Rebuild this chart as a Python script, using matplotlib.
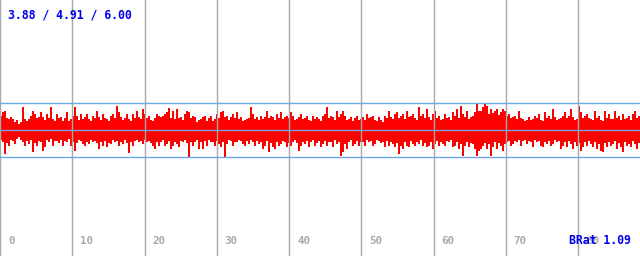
import numpy as np
import matplotlib
matplotlib.use("Agg")
import matplotlib.pyplot as plt

# upper envelope of the waveform (amplitude above centre), one value per 2-px column
top_env = [
    14,18,19,12,11,13,11,8,10,6, 8,23,11,9,11,14,19,16,12,13,
    18,13,10,16,12,23,11,9,16,12, 13,9,12,18,9,11,14,23,14,10,
    16,11,13,16,11,9,14,12,19,13, 10,16,12,11,9,14,16,12,24,18,
    13,10,12,16,11,9,16,12,19,13, 11,21,16,12,14,10,9,12,16,14,
    13,14,16,18,22,12,19,11,21,12, 13,10,16,19,18,12,14,13,8,10,
    11,13,14,9,12,14,9,11,16,12, 18,19,13,14,10,13,16,12,18,11,
    13,9,10,11,12,23,16,11,13,10, 14,11,13,19,12,14,13,10,16,12,
    18,11,13,14,12,18,14,10,11,13, 16,11,12,14,10,9,14,11,13,11,
    9,14,16,23,12,14,13,10,19,13, 16,19,14,10,11,13,9,12,14,10,
    11,13,10,16,12,13,14,10,9,13, 10,8,14,12,19,13,11,16,18,12,
    14,16,11,19,13,14,16,12,10,23, 14,16,12,21,13,10,16,19,12,14,
    10,11,16,12,13,10,18,14,21,12, 24,16,13,19,11,13,14,18,26,19,
    19,23,26,24,16,21,17,19,21,15, 18,21,19,14,16,12,13,14,11,19,
    12,11,9,10,13,10,11,14,12,16, 10,9,18,12,14,11,21,13,10,11,
    12,14,18,12,14,21,13,10,11,24, 18,12,14,16,12,11,10,19,12,14,
    10,9,19,12,16,11,11,19,12,14, 10,16,11,12,14,10,16,19,12,14,
]
# lower envelope of the waveform (amplitude below centre)
bottom_env = [
    10,12,24,13,16,10,11,14,9,7, 10,12,16,11,14,10,22,13,16,11,
    12,21,17,10,12,9,16,11,11,13, 10,16,11,12,9,16,12,21,13,10,
    11,14,16,12,14,10,12,11,13,19, 12,16,11,17,13,14,10,12,11,16,
    12,14,10,13,23,12,16,11,10,12, 11,14,10,12,11,13,16,19,12,16,
    12,10,16,14,11,19,16,12,14,17, 11,12,10,13,27,12,16,12,10,19,
    12,19,11,16,10,12,12,16,11,14, 17,12,27,14,10,11,16,12,12,10,
    11,14,16,11,14,10,12,16,11,14, 12,19,16,11,22,13,17,19,12,16,
    14,11,12,17,13,16,12,10,13,21, 16,12,14,11,17,12,10,16,13,11,
    17,14,11,16,12,12,17,10,14,12, 26,22,14,19,12,10,16,14,11,16,
    12,12,16,10,12,11,16,14,10,11, 13,12,17,11,16,12,14,17,13,24,
    16,19,12,16,17,11,14,16,12,14, 10,16,13,17,16,12,19,14,11,16,
    12,14,16,11,12,10,17,16,12,19, 14,26,16,12,17,13,14,19,26,21,
    19,16,13,19,14,26,17,12,19,13, 16,21,14,12,11,16,14,11,12,10,
    16,11,10,14,11,12,17,10,12,11, 16,17,12,14,11,16,14,10,12,11,
    19,16,12,17,11,14,19,12,16,13, 21,17,12,16,11,14,17,12,19,14,
    21,22,13,17,12,16,14,11,19,13, 17,22,12,16,14,17,11,14,19,13,
]
x_ticks = [0, 10, 20, 30, 40, 50, 60, 70, 80]
tick_labels = ["0", "10", "20", "30", "40", "50", "60", "70", "80"]
clip_level = 27
stats_text = "3.88 / 4.91 / 6.00"
brat_text = "BRat 1.09"

W, H = 640, 256
fig = plt.figure(figsize=(W / 100, H / 100), dpi=100)
ax = fig.add_axes([0, 0, 1, 1])
xmax = W / 7.225
ax.set_xlim(0, xmax)
ax.set_ylim(-(H - 129.5), 129.5)
ax.axis("off")

n = len(top_env)
t = (np.arange(n) + 0.5) * xmax / n
ax.vlines(t, -np.array(bottom_env), np.array(top_env), colors="#ff0000",
          lw=1.15, antialiased=False, zorder=2)

for xt in x_ticks:
    ax.axvline(xt, color="#a8a8a8", lw=1.0, zorder=3)

for yv in (-clip_level, 0, clip_level):
    ax.axhline(yv, color="#6fa8e6", lw=1.0, zorder=4)

mono = "DejaVu Sans Mono"
for xt, lab in zip(x_ticks, tick_labels):
    ax.annotate(lab, xy=(xt, 0), xycoords=("data", "axes fraction"),
                xytext=(8 * 0.72, 15 * 0.72), textcoords="offset points",
                ha="left", va="center", color="#aaaaaa", fontweight="bold",
                family=mono, fontsize=7.8, zorder=5)

fig.text(8 / W, 1 - 15 / H, stats_text, ha="left", va="center", color="#0000ee",
         fontweight="bold", family=mono, fontsize=8.3, zorder=6)
fig.text(569 / W, 15 / H, brat_text, ha="left", va="center", color="#0000ee",
         fontweight="bold", family=mono, fontsize=8.3, zorder=6)

fig.savefig("out.png", dpi=100)
